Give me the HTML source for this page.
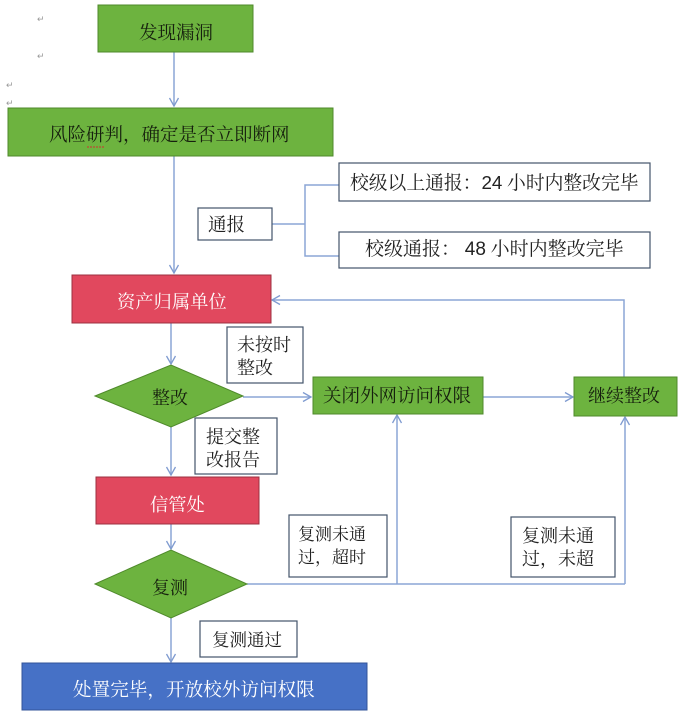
<!DOCTYPE html>
<html><head><meta charset="utf-8">
<style>
html,body{margin:0;padding:0;background:#fff;}
svg{display:block;}
text{font-family:"Liberation Serif","Noto Serif CJK SC","Noto Sans CJK SC",serif;}
</style></head>
<body>
<svg width="678" height="715" viewBox="0 0 678 715" xmlns="http://www.w3.org/2000/svg">
<defs>
<marker id="a" markerWidth="12" markerHeight="12" refX="9" refY="6" orient="auto" markerUnits="userSpaceOnUse">
<path d="M1,1.5 L9,6 L1,10.5" fill="none" stroke="#7f9bd0" stroke-width="1.3"/>
</marker>
</defs>
<g fill="#999" font-size="9"><text x="37" y="22">↵</text><text x="37" y="59">↵</text><text x="6" y="88">↵</text><text x="6" y="106">↵</text></g>

<!-- connectors -->
<g stroke="#8ba5d6" stroke-width="1.5" fill="none">
<line x1="174" y1="52" x2="174" y2="106" marker-end="url(#a)"/>
<line x1="174" y1="156" x2="174" y2="273" marker-end="url(#a)"/>
<polyline points="272,224 305,224"/>
<polyline points="339,185 305,185 305,256 339,256"/>
<line x1="171" y1="323" x2="171" y2="364" marker-end="url(#a)"/>
<line x1="243" y1="397" x2="311" y2="397" marker-end="url(#a)"/>
<line x1="483" y1="397" x2="573" y2="397" marker-end="url(#a)"/>
<polyline points="624,377 624,300 272,300" marker-end="url(#a)"/>
<line x1="171" y1="427" x2="171" y2="475" marker-end="url(#a)"/>
<line x1="171" y1="524" x2="171" y2="549" marker-end="url(#a)"/>
<polyline points="247,584 625,584"/>
<line x1="397" y1="584" x2="397" y2="415" marker-end="url(#a)"/>
<line x1="625" y1="584" x2="625" y2="417" marker-end="url(#a)"/>
<line x1="171" y1="618" x2="171" y2="662" marker-end="url(#a)"/>
</g>

<!-- green boxes -->
<g fill="#6db33f" stroke="#4f8a2b" stroke-width="1">
<rect x="98" y="5" width="155" height="47"/>
<rect x="8" y="108" width="325" height="48"/>
<rect x="313" y="377" width="170" height="37"/>
<rect x="574" y="377" width="103" height="39"/>
<polygon points="95,396 171,365 243,396 171,427"/>
<polygon points="95,584 171,550 247,584 171,618"/>
</g>
<!-- red boxes -->
<g fill="#e1485e" stroke="#9c3040" stroke-width="1">
<rect x="72" y="275" width="199" height="48"/>
<rect x="96" y="477" width="163" height="47"/>
</g>
<rect x="22" y="663" width="345" height="47" fill="#4671c6" stroke="#33549a" stroke-width="1"/>

<!-- label boxes -->
<g fill="#fff" stroke="#44546a" stroke-width="1.2">
<rect x="198" y="208" width="74" height="32"/>
<rect x="339" y="163" width="311" height="38"/>
<rect x="339" y="232" width="311" height="36"/>
<rect x="227" y="327" width="76" height="56"/>
<rect x="195" y="418" width="82" height="56"/>
<rect x="289" y="515" width="98" height="62"/>
<rect x="511" y="517" width="104" height="60"/>
<rect x="200" y="621" width="97" height="36"/>
</g>

<!-- texts -->
<g fill="#16200e" font-size="18.5">
<text x="139" y="39">发现漏洞</text>
<text x="49" y="141">风险研判，确定是否立即断网</text>
<text x="323" y="402">关闭外网访问权限</text>
<text x="588" y="402" font-size="18">继续整改</text>
<text x="152" y="404" font-size="18">整改</text>
<text x="152" y="594" font-size="18">复测</text>
</g>
<line x1="87" y1="147" x2="105" y2="147" stroke="#d03030" stroke-width="1" stroke-dasharray="2,1"/>
<g fill="#fff" font-size="18.3">
<text x="117" y="308">资产归属单位</text>
<text x="150" y="511">信管处</text>
<text x="73" y="696" font-size="18.6">处置完毕，开放校外访问权限</text>
</g>
<g fill="#222" font-size="18">
<text x="208" y="231" font-size="18.5">通报</text>
<text x="350" y="189" font-size="18.8">校级以上通报：<tspan font-family="Liberation Sans, sans-serif">24</tspan> 小时内整改完毕</text>
<text x="365" y="255" font-size="19">校级通报：  <tspan font-family="Liberation Sans, sans-serif">48</tspan> 小时内整改完毕</text>
<text x="237" y="351">未按时</text>
<text x="237" y="374">整改</text>
<text x="206" y="443">提交整</text>
<text x="206" y="466">改报告</text>
<text x="298" y="540" font-size="17">复测未通</text>
<text x="298" y="563" font-size="17">过，超时</text>
<text x="522" y="542">复测未通</text>
<text x="522" y="565">过，未超</text>
<text x="212" y="646" font-size="17.5">复测通过</text>
</g>
</svg>
</body></html>
